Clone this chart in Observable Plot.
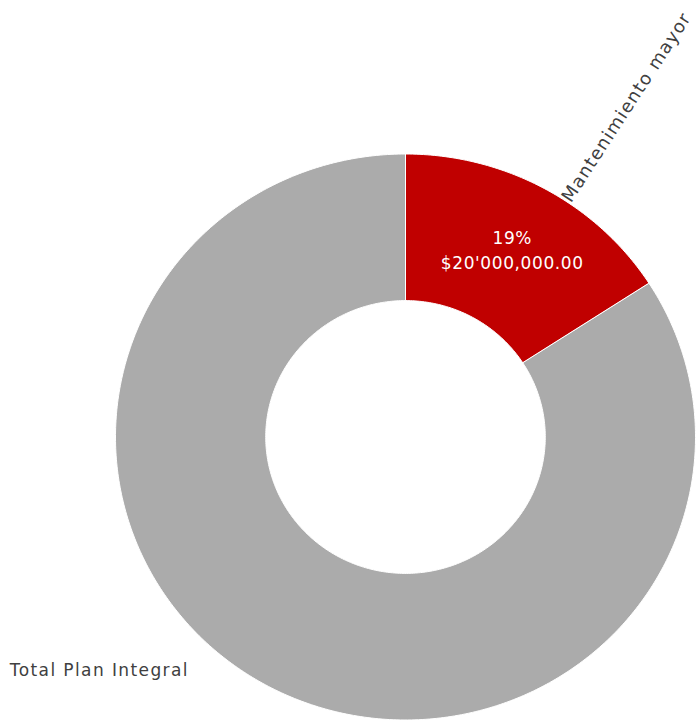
<!DOCTYPE html>
<html><head><meta charset="utf-8">
<script src="https://cdn.jsdelivr.net/npm/d3@7"></script>
<script src="https://cdn.jsdelivr.net/npm/@observablehq/plot@0.6"></script>
<style>
body{margin:0;background:#fff;}
#chart svg{display:block;}
</style>
</head><body><div id="chart"></div>
<script>
const categories = ["Mantenimiento mayor", "Total Plan Integral"];
const values = [20000000, 106000000];
const colors = ["#C00000", "#ABABAB"];

const innerRatio = 0.482;
const pie = d3.pie().sort(null).value(d => d.value).startAngle(0).endAngle(2 * Math.PI);
const slices = pie(categories.map((name, i) => ({name, value: values[i]})));

// polygon vertices for each donut slice (unit circle coords, scaled by Plot's x/y scales)
const pts = [];
for (const s of slices) {
  const n = Math.max(8, Math.ceil((s.endAngle - s.startAngle) * 80));
  for (let k = 0; k <= n; k++) {
    const a = s.startAngle + (s.endAngle - s.startAngle) * k / n;
    pts.push({name: s.data.name, x: Math.sin(a), y: Math.cos(a)});
  }
  for (let k = n; k >= 0; k--) {
    const a = s.startAngle + (s.endAngle - s.startAngle) * k / n;
    pts.push({name: s.data.name, x: innerRatio * Math.sin(a), y: innerRatio * Math.cos(a)});
  }
}

const fmtMoney = v => {
  let s = d3.format(",.2f")(v);
  const parts = s.split(",");
  if (parts.length > 2) s = parts[0] + "'" + parts.slice(1).join(",");
  return "$" + s;
};
const pct = Math.round(values[0] / values[1] * 100);
const mid = s => (s.startAngle + s.endAngle) / 2;
const s0 = slices[0], s1 = slices[1];
const rMid = (1 + innerRatio) / 2;

const inner = [{x: rMid * Math.sin(mid(s0)), y: rMid * Math.cos(mid(s0)), text: `${pct}%\n${fmtMoney(values[0])}`}];
const outerLab0 = [{x: 1.0 * Math.sin(mid(s0)), y: 1.0 * Math.cos(mid(s0)), text: categories[0]}];
const outerLab1 = [{x: 1.0 * Math.sin(mid(s1)), y: 1.0 * Math.cos(mid(s1)), text: categories[1]}];

const chart = Plot.plot({
  width: 698,
  height: 725,
  margin: 0,
  style: {fontFamily: "'DejaVu Sans', sans-serif", background: "#fff", overflow: "visible"},
  x: {domain: [-1, 1], range: [115, 695], axis: null},
  y: {domain: [-1, 1], range: [719.5, 153.5], axis: null},
  color: {domain: categories, range: colors},
  marks: [
    Plot.line(pts, {x: "x", y: "y", z: "name", fill: "name", stroke: "#fff", strokeWidth: 1, curve: "linear-closed"}),
    Plot.text(inner, {x: "x", y: "y", text: "text", fill: "white", fontSize: 17, lineHeight: 1.47, dx: 4, dy: -4}),
    Plot.text(outerLab0, {x: "x", y: "y", text: "text", fill: "#404040", fontSize: 18, textAnchor: "start", rotate: -57, dx: 22, dy: 12}),
    Plot.text(outerLab1, {x: "x", y: "y", text: "text", fill: "#404040", fontSize: 17, textAnchor: "start", dx: -257, dy: -15})
  ]
});
// letter spacing to approximate the wide geometric font of the original
chart.querySelectorAll("text").forEach(t => {
  const c = t.textContent;
  if (c.includes(categories[0])) t.setAttribute("letter-spacing", "1.2");
  else if (c.includes(categories[1])) t.setAttribute("letter-spacing", "1.4");
  else if (c.includes("$")) t.setAttribute("letter-spacing", "0.6");
});
document.getElementById("chart").append(chart);
</script>
</body></html>
